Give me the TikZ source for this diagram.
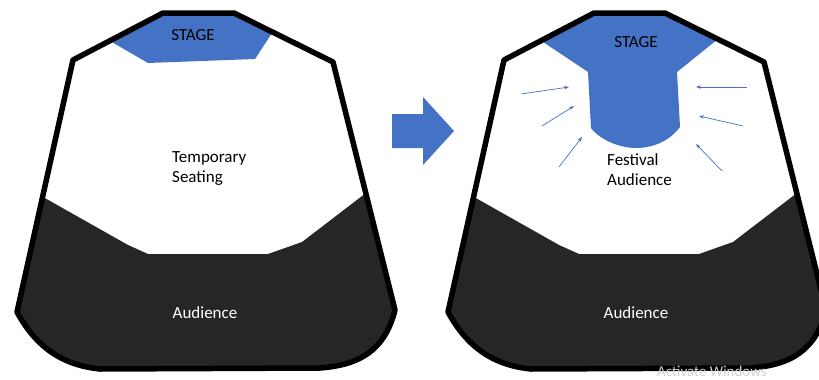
\documentclass[tikz,border=0pt]{standalone}
\usepackage{fontspec}
\setmainfont{Carlito}
\usetikzlibrary{arrows.meta}
\definecolor{stageblue}{HTML}{4472C4}
\definecolor{crowd}{HTML}{262626}

\begin{document}
\begin{tikzpicture}[
  x=1pt, y=-1pt,
  wall/.style={draw=black,line width=5.5pt,line join=round},
  lbl/.style={font=\fontsize{17}{20}\selectfont,align=left,inner sep=0pt},
  flow/.style={draw=stageblue,line width=0.7pt,-{Stealth[length=5pt,width=3.5pt]}}
]
\useasboundingbox (0,0) rectangle (819,380);
\begin{scope}
  \clip (0,0) rectangle (819,380);
% before
\begin{scope}[xshift=0pt]
  \fill[crowd] (43,197) -- (128,245) -- (148,254) -- (268,254) -- (302,242) -- (366,193)
    -- (395,310) .. controls (385,350) and (360,365) .. (320,368) -- (100,369)
    .. controls (60,365) and (35,345) .. (17,312) -- cycle;
  \fill[stageblue] (110,41) -- (163,13) -- (234,13) -- (272,33) -- (255,59) -- (148,63) -- cycle;
  \draw[wall] (163,13) -- (234,13) -- (333,62) -- (395,310)
    .. controls (385,350) and (360,365) .. (320,368) -- (100,369)
    .. controls (60,365) and (35,345) .. (17,312) -- (73,60) -- cycle;
  \node[lbl] (stage1) at (193,35) {STAGE};
  \node[lbl,anchor=north west] (temp) at (172,151) {Temporary\\Seating};
  \node[lbl,text=white] (aud1) at (205,313) {Audience};
\end{scope}
% change
\fill[stageblue] (392,114) -- (423,114) -- (423,97) -- (454,131) -- (423,165) -- (423,148) -- (392,148) -- cycle;
% after
\begin{scope}[xshift=431pt]
  \fill[crowd] (43,197) -- (128,245) -- (148,254) -- (268,254) -- (302,242) -- (366,193)
    -- (395,310) .. controls (385,350) and (360,365) .. (320,368) -- (100,369)
    .. controls (60,365) and (35,345) .. (17,312) -- cycle;
  \fill[stageblue] (112,42) -- (163,13) -- (234,13) -- (287,39) -- (246,72) -- (249,127)
    .. controls (237,143) and (219,148) .. (205,148)
    .. controls (189,148) and (169,140) .. (160,128) -- (157,72) -- cycle;
  \draw[wall] (163,13) -- (234,13) -- (333,62) -- (395,310)
    .. controls (385,350) and (360,365) .. (320,368) -- (100,369)
    .. controls (60,365) and (35,345) .. (17,312) -- (73,60) -- cycle;
  \node[lbl] (stage2) at (205,42) {STAGE};
  \node[lbl,anchor=north west] (fest) at (176,153) {Festival\\Audience};
  \node[lbl,text=white] (aud2) at (205,313) {Audience};
  \coordinate (a1) at (90,94);   \coordinate (b1) at (138,87);
  \coordinate (a2) at (111,126); \coordinate (b2) at (143,106);
  \coordinate (a3) at (128,167); \coordinate (b3) at (151,137);
  \coordinate (a4) at (316,87);  \coordinate (b4) at (265,87);
  \coordinate (a5) at (312,126); \coordinate (b5) at (268,116);
  \coordinate (a6) at (291,171); \coordinate (b6) at (265,144);
  \foreach \i in {1,...,6} \draw[flow] (a\i) -- (b\i);
  \node[lbl,font=\fontsize{15}{18}\selectfont,text=gray!35,anchor=north west] (win) at (226,366) {Activate Windows};
\end{scope}
\end{scope}
\end{tikzpicture}
\end{document}
